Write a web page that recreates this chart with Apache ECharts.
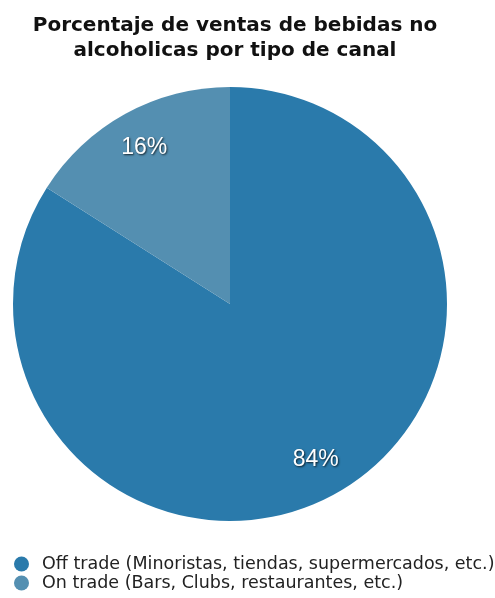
<!DOCTYPE html>
<html>
<head>
<meta charset="utf-8">
<style>
  html, body { margin: 0; padding: 0; background: #ffffff; }
  #chart { width: 495px; height: 598px; }
</style>
<script src="https://cdn.jsdelivr.net/npm/echarts@6/dist/echarts.min.js"></script>
</head>
<body>
<div id="chart"></div>
<script>
// Sales share of soft drinks by channel type
const categories = [
  'Off trade (Minoristas, tiendas, supermercados, etc.)',
  'On trade (Bars, Clubs, restaurantes, etc.)'
];
const shares = [84, 16];
const colors = ['#2a7aab', '#548fb1'];

const pieData = categories.map((name, i) => ({
  name: name,
  value: shares[i],
  itemStyle: { color: colors[i] }
}));

const chart = echarts.init(document.getElementById('chart'), null, { renderer: 'canvas' });

const center = [230, 304];
const outer = 217;

chart.setOption({
  animation: false,
  title: {
    text: 'Porcentaje de ventas de bebidas no\nalcoholicas por tipo de canal',
    left: 230,
    textAlign: 'center',
    top: 8,
    textStyle: {
      fontFamily: 'DejaVu Sans, sans-serif',
      fontSize: 20,
      fontWeight: 'bold',
      color: '#111111',
      lineHeight: 25
    }
  },
  legend: {
    orient: 'vertical',
    left: 14,
    top: 555,
    padding: 0,
    itemGap: 1,
    itemWidth: 15,
    itemHeight: 15,
    icon: 'circle',
    data: categories,
    textStyle: {
      fontFamily: 'DejaVu Sans, sans-serif',
      fontSize: 17.5,
      lineHeight: 15,
      color: '#222222',
      padding: [0, 0, 0, 8]
    }
  },
  series: [
    {
      type: 'pie',
      center: center,
      radius: [0, outer],
      startAngle: 90,
      clockwise: true,
      data: pieData,
      label: { show: false },
      labelLine: { show: false },
      emphasis: { disabled: true }
    },
    {
      // label ring: places percentages near the outer edge of each slice
      type: 'pie',
      center: center,
      radius: [133, outer],
      startAngle: 90,
      clockwise: true,
      silent: true,
      data: pieData.map(d => ({ name: d.name, value: d.value, itemStyle: { color: 'rgba(0,0,0,0)' } })),
      label: {
        show: true,
        position: 'inside',
        formatter: p => p.value + '%',
        fontFamily: 'Liberation Sans, Arial, sans-serif',
        fontSize: 23,
        color: '#ffffff',
        textShadowColor: 'rgba(0,0,0,0.75)',
        textShadowBlur: 2,
        textShadowOffsetX: 1,
        textShadowOffsetY: 1
      },
      labelLine: { show: false },
      emphasis: { disabled: true }
    }
  ]
});
</script>
</body>
</html>
